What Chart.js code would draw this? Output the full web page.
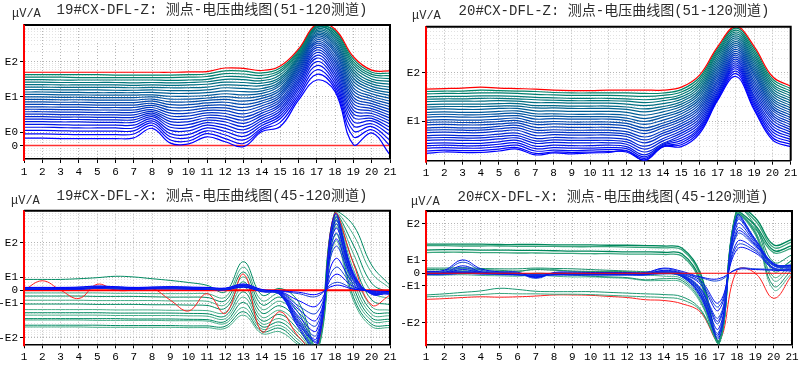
<!DOCTYPE html>
<html>
<head>
<meta charset="utf-8">
<script src="https://cdn.jsdelivr.net/npm/chart.js@4.4.0/dist/chart.umd.min.js"></script>
<style>
body { margin: 0; background: #fff; width: 803px; height: 365px; overflow: hidden; position: relative; }
canvas { position: absolute; }
</style>
</head>
<body>
<canvas id="z19" width="400" height="180" style="left:0;top:0"></canvas>
<canvas id="z20" width="403" height="180" style="left:400px;top:0"></canvas>
<canvas id="x19" width="400" height="185" style="left:0;top:180px"></canvas>
<canvas id="x20" width="403" height="185" style="left:400px;top:180px"></canvas>
<script>
// measuring points along the profile
const xLabels = ['1','2','3','4','5','6','7','8','9','10','11','12','13','14','15','16','17','18','19','20','21'];

// y values are in axis units: one decade per unit, 0 kept linear (E0 / E1 ticks below)
const z19Ticks = [0, 0.38, 1.38, 2.38];
const z19TickLabels = ['0', 'E0', 'E1', 'E2'];
const z20Ticks = [1, 2];
const z20TickLabels = ['E1', 'E2'];
const x19Ticks = [-1.37, -0.37, 0, 0.37, 1.37];
const x19TickLabels = ['-E2', '-E1', '0', 'E1', 'E2'];
const x20Ticks = [-1.345, -0.345, 0, 0.345, 1.345];
const x20TickLabels = ['-E2', '-E1', '0', 'E1', 'E2'];

const zeroLine = [0,0,0,0,0,0,0,0,0,0,0,0,0,0,0,0,0,0,0,0,0];

// ---- 19#CX-DFL-Z, channels 51 -> 120 (first one is the red top curve) ----
const z19Lines = [
  [2.08,2.08,2.08,2.08,2.08,2.08,2.08,2.08,2.08,2.09,2.1,2.2,2.19,2.13,2.26,2.74,3.45,3.3,2.52,2.14,2.12],
  [2.01,2.01,2.01,2.01,2.01,2.0,2.0,2.0,2.0,2.01,2.03,2.12,2.11,2.06,2.2,2.7,3.43,3.26,2.45,2.08,2.05],
  [1.94,1.94,1.94,1.93,1.93,1.93,1.93,1.93,1.93,1.94,1.96,2.04,2.03,1.99,2.14,2.66,3.4,3.22,2.38,2.02,1.98],
  [1.87,1.87,1.86,1.86,1.86,1.86,1.86,1.86,1.85,1.86,1.88,1.96,1.95,1.91,2.08,2.62,3.37,3.17,2.31,1.96,1.9],
  [1.8,1.8,1.79,1.79,1.79,1.79,1.78,1.79,1.78,1.79,1.81,1.88,1.87,1.84,2.01,2.58,3.34,3.12,2.24,1.89,1.82],
  [1.73,1.73,1.72,1.72,1.72,1.72,1.71,1.72,1.71,1.72,1.74,1.8,1.79,1.77,1.94,2.54,3.3,3.07,2.16,1.82,1.74],
  [1.66,1.66,1.65,1.65,1.65,1.65,1.64,1.65,1.64,1.64,1.66,1.72,1.71,1.7,1.88,2.5,3.26,3.01,2.08,1.75,1.66],
  [1.59,1.59,1.58,1.58,1.58,1.57,1.57,1.58,1.56,1.56,1.58,1.64,1.62,1.62,1.82,2.46,3.22,2.95,2.0,1.68,1.58],
  [1.52,1.52,1.51,1.51,1.5,1.5,1.5,1.51,1.48,1.48,1.5,1.55,1.53,1.55,1.76,2.42,3.18,2.89,1.91,1.61,1.5],
  [1.45,1.45,1.44,1.44,1.43,1.43,1.43,1.44,1.4,1.4,1.42,1.47,1.44,1.48,1.7,2.37,3.14,2.83,1.82,1.54,1.42],
  [1.38,1.38,1.37,1.37,1.36,1.36,1.36,1.38,1.32,1.32,1.35,1.39,1.35,1.41,1.63,2.32,3.1,2.76,1.73,1.47,1.34],
  [1.31,1.31,1.3,1.3,1.29,1.29,1.29,1.32,1.24,1.24,1.28,1.31,1.26,1.34,1.57,2.27,3.05,2.69,1.64,1.4,1.26],
  [1.24,1.24,1.23,1.23,1.22,1.22,1.22,1.26,1.16,1.16,1.21,1.23,1.17,1.27,1.5,2.22,3.0,2.62,1.55,1.33,1.18],
  [1.17,1.17,1.16,1.16,1.15,1.15,1.15,1.2,1.08,1.08,1.14,1.15,1.08,1.2,1.44,2.16,2.95,2.54,1.46,1.26,1.1],
  [1.1,1.1,1.09,1.09,1.08,1.08,1.08,1.14,1.0,1.0,1.07,1.07,0.99,1.13,1.38,2.1,2.9,2.46,1.37,1.19,1.02],
  [1.03,1.03,1.02,1.02,1.01,1.01,1.01,1.08,0.92,0.92,1.0,0.99,0.9,1.06,1.31,2.04,2.84,2.38,1.28,1.12,0.94],
  [0.96,0.96,0.95,0.95,0.94,0.94,0.94,1.02,0.84,0.84,0.93,0.91,0.81,0.99,1.25,1.97,2.78,2.3,1.19,1.05,0.86],
  [0.89,0.89,0.88,0.88,0.87,0.87,0.87,0.97,0.76,0.76,0.86,0.83,0.72,0.92,1.18,1.9,2.71,2.22,1.1,0.98,0.78],
  [0.82,0.82,0.81,0.81,0.8,0.8,0.8,0.92,0.68,0.68,0.79,0.75,0.63,0.85,1.12,1.83,2.64,2.13,1.0,0.91,0.7],
  [0.75,0.75,0.74,0.74,0.73,0.73,0.73,0.87,0.6,0.6,0.72,0.67,0.54,0.78,1.05,1.76,2.56,2.04,0.9,0.84,0.61],
  [0.68,0.68,0.67,0.67,0.66,0.66,0.66,0.82,0.52,0.51,0.65,0.58,0.45,0.71,0.98,1.68,2.48,1.95,0.8,0.77,0.52],
  [0.6,0.6,0.59,0.58,0.58,0.58,0.58,0.76,0.43,0.42,0.58,0.49,0.36,0.64,0.91,1.6,2.38,1.86,0.68,0.7,0.42],
  [0.52,0.52,0.51,0.5,0.5,0.5,0.5,0.7,0.34,0.32,0.5,0.4,0.26,0.57,0.84,1.52,2.27,1.77,0.56,0.62,0.3],
  [0.43,0.43,0.42,0.41,0.41,0.41,0.42,0.64,0.25,0.22,0.42,0.3,0.16,0.5,0.76,1.44,2.15,1.68,0.42,0.54,0.15],
  [0.33,0.33,0.32,0.31,0.31,0.31,0.33,0.57,0.16,0.13,0.34,0.2,0.06,0.45,0.66,1.36,2.02,1.6,0.25,0.45,0.0],
  [0.21,0.21,0.2,0.2,0.2,0.2,0.22,0.49,0.07,0.05,0.25,0.11,-0.03,0.4,0.54,1.29,1.86,1.53,0.03,0.36,-0.26]
];

// ---- 20#CX-DFL-Z, channels 51 -> 120 ----
const z20Lines = [
  [1.66,1.67,1.68,1.7,1.68,1.67,1.66,1.64,1.63,1.63,1.64,1.64,1.64,1.64,1.7,1.95,2.54,2.95,2.54,1.92,1.72],
  [1.61,1.62,1.62,1.64,1.63,1.62,1.61,1.59,1.58,1.58,1.58,1.58,1.57,1.58,1.65,1.9,2.5,2.92,2.49,1.87,1.67],
  [1.56,1.57,1.57,1.58,1.58,1.57,1.55,1.54,1.53,1.53,1.53,1.52,1.51,1.53,1.6,1.85,2.46,2.88,2.44,1.82,1.62],
  [1.5,1.51,1.51,1.52,1.52,1.51,1.49,1.48,1.47,1.47,1.47,1.46,1.44,1.47,1.55,1.8,2.42,2.84,2.39,1.77,1.57],
  [1.45,1.46,1.46,1.47,1.47,1.46,1.44,1.43,1.42,1.42,1.42,1.41,1.38,1.42,1.5,1.75,2.38,2.8,2.34,1.72,1.52],
  [1.4,1.41,1.41,1.41,1.42,1.41,1.38,1.38,1.37,1.37,1.37,1.35,1.32,1.36,1.45,1.7,2.33,2.76,2.29,1.67,1.47],
  [1.34,1.35,1.35,1.35,1.36,1.36,1.32,1.32,1.31,1.31,1.31,1.29,1.25,1.3,1.4,1.65,2.28,2.72,2.24,1.62,1.42],
  [1.29,1.3,1.3,1.3,1.31,1.31,1.27,1.27,1.26,1.26,1.26,1.24,1.19,1.25,1.35,1.6,2.23,2.68,2.19,1.57,1.37],
  [1.24,1.25,1.24,1.24,1.26,1.26,1.21,1.21,1.2,1.2,1.2,1.18,1.12,1.19,1.3,1.55,2.18,2.64,2.14,1.52,1.32],
  [1.18,1.19,1.18,1.18,1.2,1.21,1.15,1.15,1.14,1.14,1.14,1.12,1.05,1.13,1.25,1.5,2.13,2.6,2.09,1.47,1.27],
  [1.13,1.14,1.13,1.13,1.15,1.16,1.1,1.1,1.09,1.09,1.09,1.06,0.99,1.08,1.2,1.45,2.08,2.56,2.04,1.42,1.22],
  [1.08,1.09,1.08,1.08,1.1,1.11,1.04,1.05,1.04,1.04,1.04,1.01,0.93,1.02,1.15,1.4,2.03,2.52,1.99,1.37,1.17],
  [1.02,1.03,1.02,1.02,1.04,1.06,0.98,0.99,0.98,0.98,0.98,0.95,0.86,0.96,1.1,1.35,1.98,2.48,1.94,1.32,1.12],
  [0.97,0.98,0.97,0.97,0.99,1.01,0.93,0.94,0.93,0.93,0.93,0.9,0.8,0.91,1.05,1.3,1.93,2.44,1.88,1.27,1.07],
  [0.92,0.93,0.92,0.92,0.94,0.96,0.87,0.88,0.87,0.87,0.87,0.84,0.74,0.86,1.0,1.25,1.88,2.4,1.82,1.22,1.02],
  [0.86,0.87,0.86,0.86,0.89,0.91,0.81,0.82,0.81,0.81,0.81,0.78,0.67,0.8,0.95,1.2,1.83,2.36,1.76,1.17,0.97],
  [0.81,0.82,0.81,0.81,0.84,0.86,0.76,0.77,0.76,0.76,0.76,0.73,0.61,0.75,0.9,1.15,1.78,2.32,1.7,1.12,0.92],
  [0.76,0.77,0.76,0.76,0.79,0.81,0.7,0.72,0.71,0.71,0.71,0.68,0.55,0.7,0.85,1.1,1.73,2.28,1.64,1.07,0.87],
  [0.7,0.71,0.7,0.7,0.73,0.75,0.64,0.66,0.65,0.65,0.65,0.62,0.48,0.64,0.8,1.05,1.68,2.24,1.58,1.02,0.82],
  [0.65,0.66,0.65,0.65,0.68,0.7,0.59,0.61,0.6,0.6,0.6,0.57,0.42,0.59,0.75,1.0,1.63,2.2,1.52,0.96,0.77],
  [0.6,0.61,0.6,0.6,0.63,0.65,0.54,0.56,0.55,0.55,0.55,0.52,0.36,0.54,0.7,0.95,1.59,2.16,1.47,0.9,0.72],
  [0.54,0.55,0.54,0.54,0.57,0.6,0.48,0.5,0.49,0.49,0.5,0.47,0.3,0.52,0.65,0.9,1.55,2.12,1.42,0.84,0.67],
  [0.49,0.5,0.49,0.49,0.52,0.55,0.43,0.45,0.44,0.44,0.45,0.43,0.26,0.5,0.6,0.86,1.51,2.08,1.37,0.78,0.62],
  [0.44,0.45,0.44,0.44,0.47,0.5,0.38,0.4,0.39,0.4,0.41,0.39,0.23,0.48,0.55,0.82,1.48,2.03,1.32,0.72,0.57],
  [0.38,0.4,0.39,0.39,0.42,0.45,0.33,0.36,0.35,0.36,0.37,0.36,0.2,0.47,0.51,0.78,1.45,1.98,1.27,0.66,0.52],
  [0.33,0.36,0.35,0.35,0.38,0.42,0.3,0.34,0.32,0.34,0.35,0.38,0.18,0.47,0.47,0.74,1.43,1.92,1.23,0.61,0.47]
];

// ---- 19#CX-DFL-X, channels 45 -> 120 ----
const x19Red = [0.0,0.27,0.0,-0.24,0.17,0.0,0.0,0.05,-0.29,-0.6,-0.1,-0.67,0.46,-1.2,-0.62,-1.34,-1.7,2.24,0.77,-0.43,-0.14];
const x19Green = [
  [0.31,0.31,0.31,0.33,0.36,0.4,0.38,0.33,0.28,0.22,0.14,-0.05,0.82,-0.14,0.05,-0.34,-1.6,2.3,1.87,0.72,0.14],
  [-0.08,-0.08,-0.08,-0.08,-0.08,-0.09,-0.09,-0.1,-0.1,-0.1,-0.1,-0.2,0.66,-0.3,-0.08,-0.5,-1.62,2.25,1.6,0.5,0.05],
  [-0.17,-0.17,-0.17,-0.17,-0.18,-0.18,-0.18,-0.19,-0.2,-0.2,-0.21,-0.3,0.52,-0.42,-0.2,-0.65,-1.65,2.2,1.3,0.2,-0.08],
  [-0.29,-0.29,-0.29,-0.29,-0.3,-0.3,-0.3,-0.3,-0.31,-0.31,-0.32,-0.42,0.38,-0.55,-0.32,-0.8,-1.68,2.15,1.05,-0.05,-0.25],
  [-0.4,-0.4,-0.4,-0.4,-0.41,-0.41,-0.41,-0.42,-0.42,-0.43,-0.44,-0.52,0.24,-0.66,-0.45,-0.92,-1.7,2.1,0.8,-0.28,-0.42],
  [-0.56,-0.56,-0.56,-0.56,-0.56,-0.57,-0.57,-0.57,-0.58,-0.58,-0.59,-0.64,0.1,-0.78,-0.58,-1.04,-1.72,2.05,0.6,-0.48,-0.58],
  [-0.65,-0.65,-0.65,-0.65,-0.65,-0.66,-0.66,-0.66,-0.66,-0.67,-0.68,-0.74,-0.05,-0.88,-0.7,-1.15,-1.74,2.0,0.42,-0.6,-0.66],
  [-0.72,-0.72,-0.72,-0.72,-0.72,-0.73,-0.73,-0.73,-0.73,-0.74,-0.75,-0.82,-0.2,-0.97,-0.82,-1.25,-1.76,1.95,0.25,-0.7,-0.74],
  [-0.82,-0.82,-0.82,-0.82,-0.82,-0.82,-0.83,-0.83,-0.83,-0.84,-0.85,-0.9,-0.35,-1.05,-0.92,-1.35,-1.78,1.88,0.1,-0.8,-0.84],
  [-0.86,-0.86,-0.86,-0.86,-0.87,-0.87,-0.87,-0.87,-0.88,-0.88,-0.89,-0.96,-0.5,-1.12,-1.02,-1.44,-1.8,1.8,-0.05,-0.88,-0.9],
  [-1.01,-1.01,-1.01,-1.01,-1.01,-1.02,-1.02,-1.02,-1.02,-1.03,-1.03,-1.04,-0.62,-1.19,-1.1,-1.52,-1.82,1.6,-0.2,-0.98,-1.02],
  [-1.06,-1.06,-1.06,-1.06,-1.07,-1.07,-1.07,-1.07,-1.07,-1.08,-1.08,-1.1,-0.72,-1.25,-1.2,-1.58,-1.85,1.4,-0.3,-1.05,-1.08]
];
const x19Blue = [
  [0.08,0.08,0.08,0.09,0.12,0.1,0.08,0.09,0.1,0.09,0.08,0.06,0.18,0.02,-0.02,-0.06,-0.12,0.14,0.03,-0.02,-0.04],
  [0.06,0.06,0.07,0.07,0.1,0.09,0.07,0.08,0.09,0.08,0.06,0.04,0.16,0.0,-0.03,-0.1,-0.18,0.22,0.05,-0.03,-0.06],
  [0.05,0.05,0.05,0.05,0.08,0.07,0.05,0.06,0.07,0.06,0.05,0.03,0.14,-0.01,-0.04,-0.3,-0.45,0.45,0.1,-0.04,-0.08],
  [0.04,0.04,0.04,0.04,0.06,0.05,0.04,0.05,0.05,0.05,0.04,0.02,0.12,-0.02,-0.05,-0.45,-0.65,0.65,0.14,-0.05,-0.1],
  [0.03,0.03,0.03,0.03,0.05,0.04,0.03,0.04,0.04,0.04,0.03,0.01,0.1,-0.03,-0.06,-0.55,-0.85,0.9,0.2,-0.06,-0.12],
  [0.07,0.07,0.07,0.08,0.11,0.09,0.07,0.08,0.09,0.08,0.07,0.05,0.15,0.0,-0.07,-0.65,-1.0,1.25,0.26,-0.07,-0.1],
  [0.05,0.05,0.06,0.06,0.09,0.08,0.06,0.07,0.08,0.07,0.05,0.04,0.13,-0.01,-0.08,-0.75,-1.15,1.45,0.3,-0.08,-0.09],
  [0.04,0.04,0.05,0.05,0.07,0.06,0.05,0.06,0.06,0.05,0.04,0.03,0.11,-0.02,-0.09,-0.82,-1.28,1.62,0.34,-0.08,-0.08],
  [0.03,0.03,0.04,0.04,0.06,0.05,0.04,0.05,0.05,0.04,0.03,0.02,0.1,-0.03,-0.1,-0.88,-1.38,1.76,0.38,-0.09,-0.07],
  [0.02,0.02,0.03,0.03,0.05,0.04,0.03,0.04,0.04,0.03,0.02,0.01,0.08,-0.04,-0.11,-0.94,-1.46,1.88,0.41,-0.1,-0.06],
  [0.06,0.06,0.06,0.07,0.09,0.07,0.06,0.07,0.08,0.07,0.06,0.04,0.14,-0.02,-0.12,-0.98,-1.52,1.98,0.44,-0.1,-0.05],
  [0.04,0.04,0.05,0.05,0.07,0.06,0.05,0.06,0.06,0.05,0.04,0.03,0.12,-0.03,-0.13,-1.03,-1.58,2.08,0.47,-0.11,-0.05],
  [0.03,0.03,0.04,0.04,0.06,0.05,0.04,0.05,0.05,0.04,0.03,0.02,0.1,-0.04,-0.14,-1.08,-1.65,2.2,0.5,-0.12,-0.04]
];

// ---- 20#CX-DFL-X, channels 45 -> 120 ----
const x20Red = [-0.71,-0.69,-0.66,-0.64,-0.65,-0.64,-0.62,-0.59,-0.59,-0.6,-0.63,-0.66,-0.72,-0.74,-0.83,-1.06,-1.85,0.08,0.0,-0.68,-0.05];
const x20Upper = [
  [0.79,0.79,0.79,0.79,0.78,0.78,0.78,0.77,0.77,0.77,0.76,0.76,0.75,0.74,0.68,0.0,-1.85,1.76,1.5,0.77,0.92],
  [0.75,0.75,0.74,0.74,0.74,0.73,0.73,0.73,0.72,0.72,0.72,0.71,0.7,0.69,0.63,-0.08,-1.88,1.72,1.42,0.7,0.85],
  [0.63,0.64,0.64,0.63,0.63,0.62,0.62,0.61,0.6,0.6,0.59,0.58,0.58,0.57,0.52,-0.18,-1.9,1.66,1.3,0.62,0.75],
  [0.56,0.57,0.57,0.56,0.56,0.55,0.55,0.54,0.54,0.53,0.53,0.52,0.52,0.51,0.46,-0.25,-1.92,1.6,1.2,0.56,0.68]
];
const x20Lower = [
  [-0.59,-0.56,-0.52,-0.48,-0.41,-0.44,-0.49,-0.5,-0.5,-0.5,-0.52,-0.54,-0.56,-0.58,-0.64,-0.98,-1.92,1.6,1.1,0.05,0.35],
  [-0.64,-0.62,-0.6,-0.58,-0.55,-0.56,-0.56,-0.57,-0.57,-0.58,-0.6,-0.62,-0.64,-0.66,-0.72,-1.02,-1.9,1.55,1.05,-0.1,0.28]
];
const x20NearGreen = [
  [0.1,0.1,0.12,0.1,0.08,0.06,0.1,0.08,0.06,0.05,0.05,0.04,0.0,0.0,-0.1,-0.6,-1.9,1.7,1.25,0.1,0.35],
  [0.05,0.06,0.08,0.06,0.05,0.04,0.12,0.1,0.05,0.04,0.03,0.0,-0.05,-0.08,-0.15,-0.7,-1.92,1.65,1.15,-0.2,0.2],
  [0.0,0.0,0.02,0.0,-0.02,-0.04,0.0,-0.02,-0.05,-0.08,-0.1,-0.12,-0.18,-0.15,-0.2,-0.75,-1.93,1.6,1.1,-0.35,0.1],
  [-0.05,-0.05,-0.04,-0.06,-0.07,-0.08,-0.05,-0.08,-0.1,-0.1,-0.12,-0.14,-0.2,-0.2,-0.25,-0.8,-1.93,1.55,1.05,-0.45,0.0],
  [0.14,0.14,0.15,0.13,0.12,0.12,0.14,0.13,0.12,0.1,0.08,0.06,0.04,0.02,-0.05,-0.5,-1.85,1.72,1.3,0.3,0.5]
];
const x20Blue = [
  [0.05,0.08,0.36,0.12,0.04,0.03,-0.12,0.02,0.03,0.02,0.02,0.02,0.02,0.14,0.05,-0.1,-0.15,0.1,0.1,0.08,0.06],
  [0.02,0.05,0.3,0.08,0.02,0.0,-0.14,0.0,0.0,0.0,0.0,0.0,0.0,0.12,0.02,-0.12,-0.2,0.12,0.12,0.1,0.08],
  [0.0,0.02,0.2,0.04,0.0,-0.02,-0.1,-0.02,-0.02,-0.02,-0.02,-0.02,-0.02,0.08,0.0,-0.2,-0.8,0.65,0.55,0.12,0.1],
  [0.0,0.01,0.15,0.03,0.0,-0.02,-0.09,-0.02,-0.02,-0.02,-0.02,-0.02,-0.02,0.06,-0.03,-0.25,-0.9,0.75,0.6,0.14,0.11],
  [-0.02,0.0,0.1,0.02,-0.02,-0.04,-0.08,-0.04,-0.04,-0.04,-0.04,-0.04,-0.04,0.05,-0.02,-0.3,-1.0,0.85,0.65,0.15,0.12],
  [0.03,0.03,0.05,0.03,0.02,0.0,-0.05,0.0,0.0,0.0,0.0,0.0,0.0,0.03,-0.04,-0.4,-1.2,1.05,0.72,0.2,0.15],
  [0.01,0.02,0.04,0.02,0.01,-0.01,-0.05,-0.01,-0.01,-0.01,-0.01,-0.01,-0.01,0.03,-0.05,-0.42,-1.28,1.12,0.76,0.21,0.16],
  [-0.04,-0.04,0.0,-0.02,-0.04,-0.05,-0.06,-0.05,-0.05,-0.05,-0.05,-0.05,-0.05,-0.02,-0.06,-0.45,-1.35,1.2,0.78,0.22,0.18],
  [0.01,0.01,0.03,0.01,0.0,-0.01,-0.04,-0.01,-0.01,-0.01,-0.01,-0.01,-0.01,0.02,-0.07,-0.5,-1.5,1.32,0.82,0.24,0.2],
  [-0.01,-0.01,0.02,0.0,-0.01,-0.02,-0.05,-0.02,-0.02,-0.02,-0.02,-0.02,-0.02,0.01,-0.08,-0.55,-1.6,1.42,0.86,0.25,0.22],
  [-0.02,-0.02,0.01,-0.01,-0.02,-0.03,-0.05,-0.03,-0.03,-0.03,-0.03,-0.03,-0.03,0.01,-0.08,-0.58,-1.65,1.46,0.88,0.25,0.21],
  [0.02,0.02,0.04,0.02,0.01,0.0,-0.03,0.0,0.0,0.0,0.0,0.0,0.0,0.03,-0.09,-0.6,-1.7,1.5,0.9,0.26,0.2],
  [-0.03,-0.03,-0.01,-0.02,-0.03,-0.04,-0.06,-0.04,-0.04,-0.04,-0.04,-0.04,-0.04,0.0,-0.1,-0.65,-1.77,1.58,0.92,0.27,0.2]
];

// ========== helpers ==========
const GRID = '#b4b4b4';
const MINOR = '#e2e2e2';

// log minor lines (2..9 in each decade), plus a few in the linear part around 0
function minorTicks(first, min, max, symmetric) {
    const out = [];
    for (let d = -1; d < 4; d++) {
        for (let k = 2; k <= 9; k++) {
            const p = first + d + Math.log10(k);
            if (p > Math.max(min, first - 1) && p < max && (symmetric ? p > first : true)) out.push(p);
            if (symmetric && p > first && -p > min) out.push(-p);
        }
    }
    if (symmetric) {
        for (let k = 1; k < 5; k++) {
            const p = first * k / 5;
            out.push(p);
            if (-p > min) out.push(-p);
        }
    }
    return out;
}

function isMajor(v, majors) {
    return majors.some(m => Math.abs(m - v) < 1e-6);
}

// frame, title and unit text
const framePlugin = {
    id: 'frame',
    afterDraw(chart, args, o) {
        const { ctx, chartArea: a } = chart;
        ctx.save();
        ctx.lineWidth = 2;
        ctx.strokeStyle = '#000';
        ctx.beginPath();
        ctx.moveTo(a.left, a.top);
        ctx.lineTo(a.right, a.top);
        ctx.lineTo(a.right, a.bottom);
        ctx.stroke();
        ctx.strokeStyle = '#ff0000';
        ctx.beginPath();
        ctx.moveTo(a.left, a.top);
        ctx.lineTo(a.left, a.bottom + 2);
        ctx.stroke();

        ctx.fillStyle = '#2c2c2c';
        ctx.textBaseline = 'middle';
        ctx.textAlign = 'center';
        ctx.font = '14px "Liberation Mono", "Noto Sans CJK SC"';
        ctx.fillText(o.title, o.titleX, o.titleY);
        ctx.textAlign = 'left';
        ctx.font = '12px "Liberation Mono", "Noto Sans CJK SC"';
        ctx.fillText('μV/A', o.unitX, o.unitY);
        ctx.restore();
    }
};

function line(data, color, width) {
    return { data: data, borderColor: color, borderWidth: width, pointRadius: 0, fill: false, tension: 0.4 };
}

function zColor(i, n) {
    if (i === 0) return '#ff0000';
    const t = (i - 1) / (n - 2);
    return 'rgb(0,' + Math.round(132 * (1 - t)) + ',' + Math.round(105 + 150 * t) + ')';
}

function makeChart(id, p) {
    const majors = p.ticks;
    const minors = minorTicks(p.first, p.min, p.max, p.symmetric);
    return new Chart(document.getElementById(id).getContext('2d'), {
        type: 'line',
        data: { labels: xLabels, datasets: p.datasets },
        plugins: [framePlugin],
        options: {
            responsive: false,
            animation: false,
            layout: { padding: { top: p.top, right: p.right, left: 0, bottom: 0 } },
            plugins: {
                legend: { display: false },
                tooltip: { enabled: false },
                frame: { title: p.title, titleX: p.titleX, titleY: p.titleY, unitX: p.unitX, unitY: p.unitY }
            },
            scales: {
                x: {
                    grid: { color: GRID, tickLength: 4, tickColor: '#000' },
                    border: { color: '#000', width: 1.5, dash: [1, 2] },
                    ticks: { color: '#000', font: { family: 'Liberation Mono', size: 11 }, padding: 2, maxRotation: 0, autoSkip: false },
                    afterFit: s => { s.height = p.xHeight; }
                },
                y: {
                    min: p.min,
                    max: p.max,
                    afterBuildTicks: s => {
                        s.ticks = majors.concat(minors).sort((a, b) => a - b).map(v => ({ value: v }));
                    },
                    grid: {
                        color: c => (c.tick && isMajor(c.tick.value, majors)) ? GRID : MINOR,
                        tickColor: c => (c.tick && isMajor(c.tick.value, majors)) ? '#000' : 'rgba(0,0,0,0)',
                        tickLength: 4
                    },
                    border: { color: '#ff0000', width: 2, dash: [1, 2] },
                    ticks: {
                        autoSkip: false,
                        color: '#000',
                        padding: 2,
                        font: { family: 'Liberation Mono', size: 11 },
                        callback: v => {
                            const i = majors.findIndex(m => Math.abs(m - v) < 1e-6);
                            return i < 0 ? '' : p.tickLabels[i];
                        }
                    },
                    afterFit: s => { s.width = p.yWidth; }
                }
            }
        }
    });
}

// ========== 19#CX-DFL-Z ==========
const z19Sets = z19Lines.map((d, i) => line(d, zColor(i, z19Lines.length), 1.2));
z19Sets.push(line(zeroLine, '#ff3030', 1.5));
makeChart('z19', {
    datasets: z19Sets, ticks: z19Ticks, tickLabels: z19TickLabels,
    min: -0.38, max: 3.42, first: 0.38, symmetric: true,
    top: 25, right: 10, xHeight: 21, yWidth: 24,
    title: '19#CX-DFL-Z: 测点-电压曲线图(51-120测道)', titleX: 212, titleY: 10, unitX: 12, unitY: 14
});

// ========== 20#CX-DFL-Z ==========
const z20Sets = z20Lines.map((d, i) => line(d, zColor(i, z20Lines.length), 1.2));
makeChart('z20', {
    datasets: z20Sets, ticks: z20Ticks, tickLabels: z20TickLabels,
    min: 0.18, max: 2.95, first: 0, symmetric: false,
    top: 26.7, right: 12.3, xHeight: 19.3, yWidth: 26,
    title: '20#CX-DFL-Z: 测点-电压曲线图(51-120测道)', titleX: 214, titleY: 11, unitX: 12, unitY: 16
});

// ========== 19#CX-DFL-X ==========
const x19Sets = [];
x19Blue.forEach((d, i) => x19Sets.push(line(d, i % 2 ? '#1840d8' : '#0000ff', 1)));
x19Sets.push(line(zeroLine, '#ff0000', 2));
x19Sets.push(line(x19Red, '#ff2020', 1));
x19Green.forEach((d, i) => x19Sets.push(line(d, i % 2 ? '#45ad88' : '#008a62', 1)));
makeChart('x19', {
    datasets: x19Sets, ticks: x19Ticks, tickLabels: x19TickLabels,
    min: -1.56, max: 2.29, first: 0.37, symmetric: true,
    top: 30.7, right: 10, xHeight: 20.7, yWidth: 24,
    title: '19#CX-DFL-X: 测点-电压曲线图(45-120测道)', titleX: 212, titleY: 16, unitX: 11, unitY: 21
});

// ========== 20#CX-DFL-X ==========
const x20Sets = [line(zeroLine, '#ff0000', 1.2)];
x20Blue.forEach((d, i) => x20Sets.push(line(d, i % 2 ? '#1a48d8' : '#0010f0', 1)));
x20NearGreen.forEach((d, i) => x20Sets.push(line(d, i % 2 ? '#4cb090' : '#178f6a', 1)));
x20Upper.forEach((d, i) => x20Sets.push(line(d, i % 2 ? '#3aa67e' : '#00875c', 1.3)));
x20Lower.forEach((d, i) => x20Sets.push(line(d, i % 2 ? '#3aa67e' : '#1a9670', 1)));
x20Sets.push(line(x20Red, '#ff2020', 1));
makeChart('x20', {
    datasets: x20Sets, ticks: x20Ticks, tickLabels: x20TickLabels,
    min: -1.93, max: 1.69, first: 0.345, symmetric: true,
    top: 31, right: 11, xHeight: 20.7, yWidth: 26,
    title: '20#CX-DFL-X: 测点-电压曲线图(45-120测道)', titleX: 213, titleY: 17, unitX: 11, unitY: 22
});
</script>
</body>
</html>
